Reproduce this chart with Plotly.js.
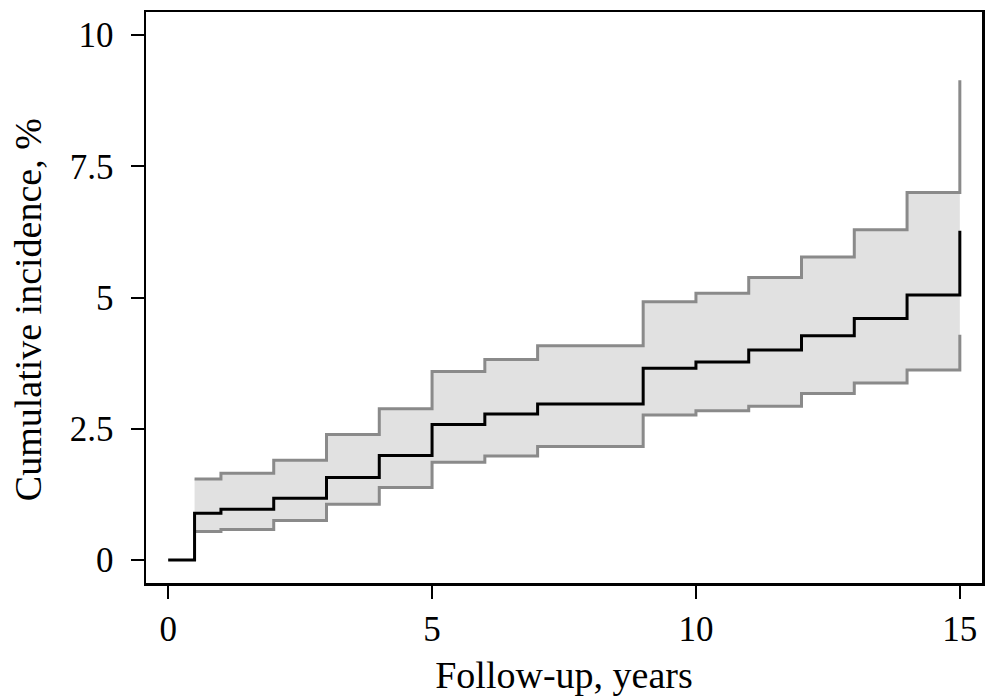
<!DOCTYPE html>
<html>
<head>
<meta charset="utf-8">
<script src="https://cdn.plot.ly/plotly-3.0.1.min.js"></script>
<style>html,body{margin:0;padding:0;background:#fff;}#chart{width:990px;height:696px;}</style>
</head>
<body>
<div id="chart"></div>
<script>
// Step times (years)
var estTimes = [0, 0.5, 1, 2, 3, 4, 5, 6, 7, 9, 10, 11, 12, 13, 14, 15];
// Cumulative incidence estimate (%)
var estimate = [0, 0.89, 0.965, 1.175, 1.57, 1.99, 2.58, 2.78, 2.97, 3.65, 3.77, 4.0, 4.27, 4.60, 5.05, 6.27];
// Confidence band times
var bandTimes = [0.5, 1, 2, 3, 4, 5, 6, 7, 9, 10, 11, 12, 13, 14, 15];
var upperCI = [1.54, 1.65, 1.90, 2.39, 2.88, 3.59, 3.82, 4.08, 4.92, 5.08, 5.38, 5.77, 6.29, 7.00, 9.14];
var lowerCI = [0.54, 0.58, 0.75, 1.06, 1.38, 1.86, 1.98, 2.16, 2.76, 2.84, 2.93, 3.17, 3.37, 3.62, 4.29];
// Tick labels
var xTicks = [0, 5, 10, 15];
var yTicks = [0, 2.5, 5, 7.5, 10];
var yTickText = ['0', '2.5', '5', '7.5', '10'];
var xTitle = 'Follow-up, years';
var yTitle = 'Cumulative incidence, %';

var serif = 'Liberation Serif, Times New Roman, serif';

var traces = [
  {x: bandTimes, y: lowerCI, mode: 'lines', line: {shape: 'hv', color: '#8a8a8a', width: 3}, hoverinfo: 'skip', showlegend: false},
  {x: bandTimes, y: upperCI, mode: 'lines', fill: 'tonexty', fillcolor: '#e1e1e1', line: {shape: 'hv', color: '#8a8a8a', width: 3}, hoverinfo: 'skip', showlegend: false},
  {x: estTimes, y: estimate, mode: 'lines', line: {shape: 'hv', color: '#000000', width: 3}, showlegend: false}
];

var layout = {
  width: 990, height: 696,
  margin: {l: 146, r: 8, t: 12, b: 113},
  paper_bgcolor: '#ffffff', plot_bgcolor: '#ffffff',
  font: {family: serif, color: '#000'},
  xaxis: {
    range: [-0.42, 15.42], tickvals: xTicks, ticks: 'outside', ticklen: 13, tickwidth: 2, tickcolor: '#000',
    showgrid: false, zeroline: false, showline: true, mirror: true, linewidth: 2.5, linecolor: '#000',
    tickfont: {family: serif, size: 35, color: '#000'},
    title: {text: xTitle, font: {family: serif, size: 38, color: '#000'}, standoff: 16}
  },
  yaxis: {
    range: [-0.44, 10.44], tickvals: yTicks, ticktext: yTickText, ticks: 'outside', ticklen: 13, tickwidth: 2, tickcolor: '#000',
    showgrid: false, zeroline: false, showline: true, mirror: true, linewidth: 2.5, linecolor: '#000',
    tickfont: {family: serif, size: 35, color: '#000'}, ticklabelstandoff: 10
  },
  annotations: [{
    text: yTitle, xref: 'paper', yref: 'paper', x: -0.141, y: 0.478,
    xanchor: 'center', yanchor: 'middle', textangle: -90, showarrow: false,
    font: {family: serif, size: 38, color: '#000'}
  }]
};

Plotly.newPlot('chart', traces, layout, {displayModeBar: false, staticPlot: true});
</script>
</body>
</html>
